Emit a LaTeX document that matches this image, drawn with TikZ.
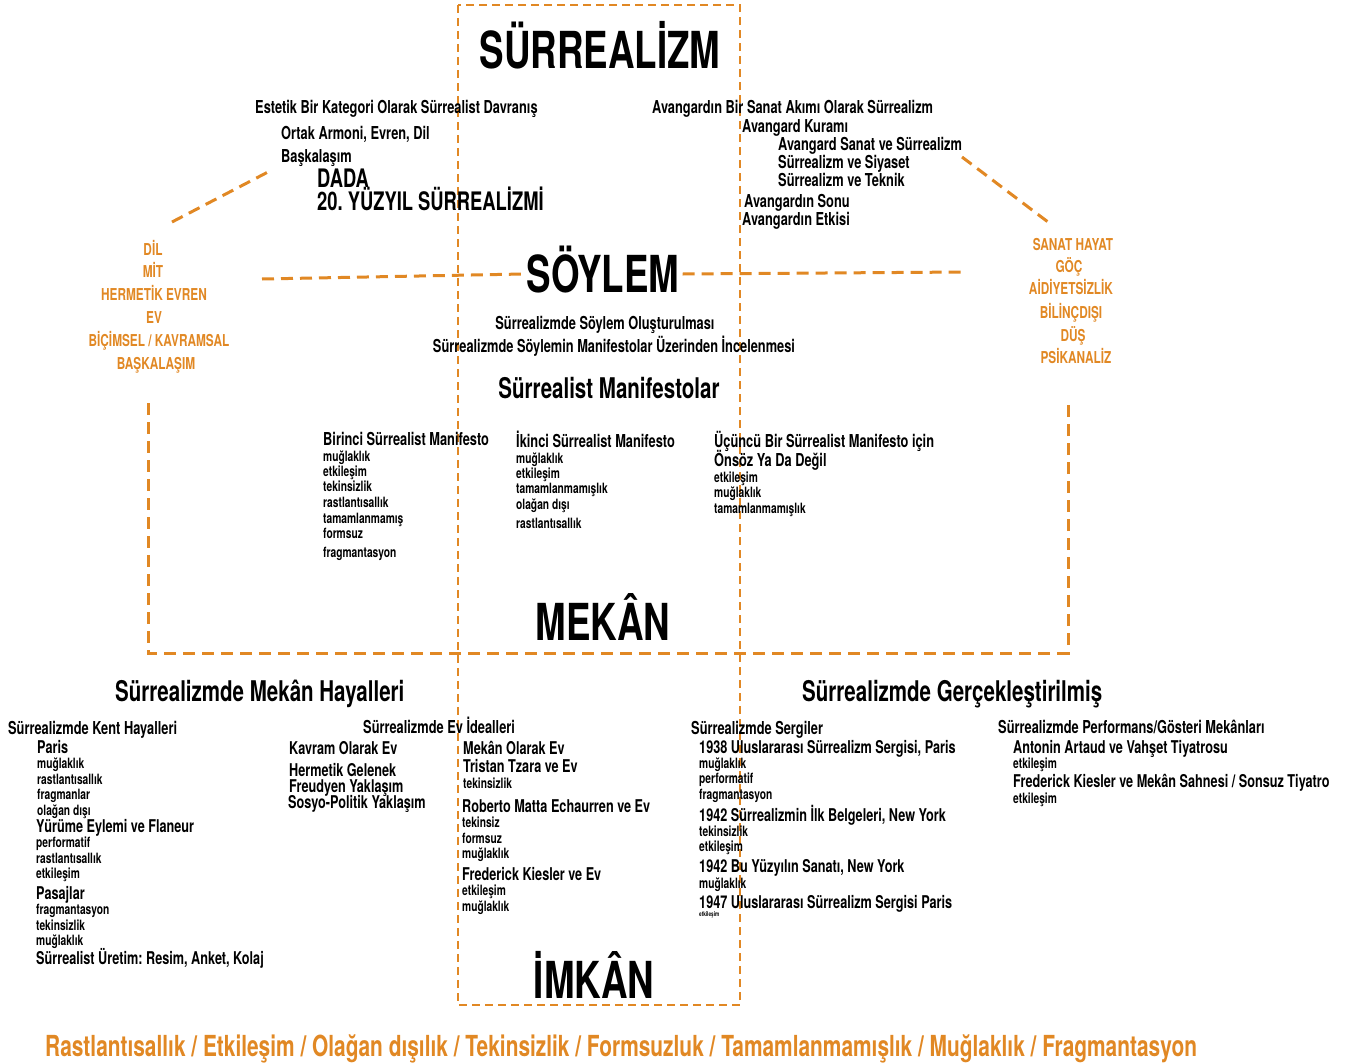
\documentclass[tikz,border=0pt]{standalone}
\usepackage{fontspec}
\setmainfont{TeX Gyre Heros}[FakeStretch=0.72]
\definecolor{orng}{RGB}{225,136,36}
\frenchspacing
\begin{document}
\begin{tikzpicture}[x=1pt,y=-1pt,
  base/.style={inner sep=0pt, text depth=0pt},
  lt/.style={base, anchor=west},
  big/.style={base, anchor=center, text height=36.7pt, font=\fontsize{51}{51}\selectfont\bfseries},
  head/.style={lt, text height=20.5pt, font=\fontsize{28.5}{28.5}\selectfont\bfseries},
  dada/.style={lt, text height=18.4pt, font=\fontsize{25.5}{25.5}\selectfont\bfseries},
  mid/.style={lt, text height=12.8pt, font=\fontsize{17.8}{17.8}\selectfont\bfseries},
  mida/.style={lt, text height=12.7pt, font=\fontsize{17.6}{17.6}\selectfont\bfseries},
  sm/.style={lt, text height=10.2pt, font=\fontsize{14.2}{14.2}\selectfont\bfseries},
  tiny/.style={lt, text height=4.7pt, font=\fontsize{6.5}{6.5}\selectfont\bfseries},
  olist/.style={base, anchor=center, text height=11.8pt, text=orng, font=\fontsize{16.4}{16.4}\selectfont\bfseries},
  bottom/.style={lt, text height=20.9pt, text=orng, font=\fontsize{29}{29}\selectfont\bfseries},
  dline/.style={draw=orng, line width=3pt, dash pattern=on 12pt off 7pt},
  frame/.style={draw=orng, line width=2.4pt, dash pattern=on 8pt off 5pt}]
\useasboundingbox (0,0) rectangle (1363,1063);

% frame and dashed connectors
\coordinate (ftl) at (458,5);
\coordinate (fbr) at (740,1005);
\draw[frame] (ftl) rectangle (fbr);

\coordinate (vl1) at (148,403);
\coordinate (vl2) at (148,653);
\coordinate (vr2) at (1068,653);
\coordinate (vr1) at (1068,403);
\draw[dline] (vl1) -- (vl2) -- (vr2) -- (vr1);

\coordinate (dl1) at (172,222);
\coordinate (dl2) at (268,172);
\draw[dline] (dl1) -- (dl2);
\coordinate (dr1) at (962,157);
\coordinate (dr2) at (1048,222);
\draw[dline] (dr1) -- (dr2);

% main titles
\node[big] (surr) at (600,50) {SÜRREALİZM};
\node[big] (soylem) at (603,274) {SÖYLEM};
\node[big] (mekan) at (603,622) {MEKÂN};
\node[big] (imkan) at (594,980) {İMKÂN};

\coordinate (sl) at (262,279);
\coordinate (sr) at (967,272);
\draw[dline] (sl) -- ([xshift=-3pt]soylem.west);
\draw[dline] ([xshift=3pt]soylem.east) -- (sr);

% top left
\node[mid] (t1) at (255,107) {Estetik Bir Kategori Olarak Sürrealist Davranış};
\node[mid] (t2) at (281,133) {Ortak Armoni, Evren, Dil};
\node[mid] (t3) at (281,156) {Başkalaşım};
\node[dada] (t4) at (317,178) {DADA};
\node[dada] (t5) at (317,201) {20. YÜZYIL SÜRREALİZMİ};

% top right
\node[mid] (a1) at (652,107) {Avangardın Bir Sanat Akımı Olarak Sürrealizm};
\node[mid] (a2) at (742,126) {Avangard Kuramı};
\node[mid] (a3) at (778,144) {Avangard Sanat ve Sürrealizm};
\node[mid] (a4) at (778,162) {Sürrealizm ve Siyaset};
\node[mid] (a5) at (778,180) {Sürrealizm ve Teknik};
\node[mid] (a6) at (744,201) {Avangardın Sonu};
\node[mid] (a7) at (742,219) {Avangardın Etkisi};

% left orange list
\node[olist] (o1) at (153,250) {DİL};
\node[olist] (o2) at (153,272) {MİT};
\node[olist] (o3) at (154,295) {HERMETİK EVREN};
\node[olist] (o4) at (154,318) {EV};
\node[olist] (o5) at (159,341) {BİÇİMSEL / KAVRAMSAL};
\node[olist] (o6) at (156,364) {BAŞKALAŞIM};

% right orange list
\node[olist] (r1) at (1073,245) {SANAT HAYAT};
\node[olist] (r2) at (1069,267) {GÖÇ};
\node[olist] (r3) at (1071,289) {AİDİYETSİZLİK};
\node[olist] (r4) at (1071,313) {BİLİNÇDIŞI};
\node[olist] (r5) at (1073,336) {DÜŞ};
\node[olist] (r6) at (1076,358) {PSİKANALİZ};

% söylem block
\node[mid, anchor=center] (s1) at (605,323) {Sürrealizmde Söylem Oluşturulması};
\node[mid, anchor=center] (s2) at (614,346) {Sürrealizmde Söylemin Manifestolar Üzerinden İncelenmesi};
\node[head, anchor=center] (s3) at (609,388) {Sürrealist Manifestolar};

% manifestos
\node[mid] (m1) at (323,439) {Birinci Sürrealist Manifesto};
\node[sm] (m1a) at (323,456) {muğlaklık};
\node[sm] (m1b) at (323,471) {etkileşim};
\node[sm] (m1c) at (323,486) {tekinsizlik};
\node[sm] (m1d) at (323,502) {rastlantısallık};
\node[sm] (m1e) at (323,518) {tamamlanmamış};
\node[sm] (m1f) at (323,533) {formsuz};
\node[sm] (m1g) at (323,552) {fragmantasyon};

\node[mid] (m2) at (516,441) {İkinci Sürrealist Manifesto};
\node[sm] (m2a) at (516,458) {muğlaklık};
\node[sm] (m2b) at (516,473) {etkileşim};
\node[sm] (m2c) at (516,488) {tamamlanmamışlık};
\node[sm] (m2d) at (516,504) {olağan dışı};
\node[sm] (m2e) at (516,523) {rastlantısallık};

\node[mid] (m3) at (714,441) {Üçüncü Bir Sürrealist Manifesto için};
\node[mid] (m3x) at (714,460) {Önsöz Ya Da Değil};
\node[sm] (m3a) at (714,477) {etkileşim};
\node[sm] (m3b) at (714,492) {muğlaklık};
\node[sm] (m3c) at (714,508) {tamamlanmamışlık};

% mekan hayalleri
\node[head] (h1) at (115,691) {Sürrealizmde Mekân Hayalleri};
\node[mid] (k0) at (8,728) {Sürrealizmde Kent Hayalleri};
\node[mida] (k1) at (37,747) {Paris};
\node[sm] (k1a) at (37,763) {muğlaklık};
\node[sm] (k1b) at (37,779) {rastlantısallık};
\node[sm] (k1c) at (37,794) {fragmanlar};
\node[sm] (k1d) at (37,810) {olağan dışı};
\node[mida] (k2) at (36,826) {Yürüme Eylemi ve Flaneur};
\node[sm] (k2a) at (36,842) {performatif};
\node[sm] (k2b) at (36,858) {rastlantısallık};
\node[sm] (k2c) at (36,873) {etkileşim};
\node[mida] (k3) at (36,893) {Pasajlar};
\node[sm] (k3a) at (36,909) {fragmantasyon};
\node[sm] (k3b) at (36,925) {tekinsizlik};
\node[sm] (k3c) at (36,940) {muğlaklık};
\node[mida] (k4) at (36,958) {Sürrealist Üretim: Resim, Anket, Kolaj};

\node[mid] (e0) at (363,727) {Sürrealizmde Ev İdealleri};
\node[mida] (e1) at (289,748) {Kavram Olarak Ev};
\node[mida] (e2) at (289,770) {Hermetik Gelenek};
\node[mida] (e3) at (289,786) {Freudyen Yaklaşım};
\node[mida] (e4) at (288,802) {Sosyo-Politik Yaklaşım};
\node[mida] (e5) at (463,748) {Mekân Olarak Ev};
\node[mida] (e6) at (463,766) {Tristan Tzara ve Ev};
\node[sm] (e6a) at (463,783) {tekinsizlik};
\node[mida] (e7) at (462,806) {Roberto Matta Echaurren ve Ev};
\node[sm] (e7a) at (462,822) {tekinsiz};
\node[sm] (e7b) at (462,838) {formsuz};
\node[sm] (e7c) at (462,853) {muğlaklık};
\node[mida] (e8) at (462,874) {Frederick Kiesler ve Ev};
\node[sm] (e8a) at (462,890) {etkileşim};
\node[sm] (e8b) at (462,906) {muğlaklık};

% gerceklestirilmis
\node[head] (g0) at (802,691) {Sürrealizmde Gerçekleştirilmiş};
\node[mid] (g1) at (691,728) {Sürrealizmde Sergiler};
\node[mida] (g2) at (699,747) {1938 Uluslararası Sürrealizm Sergisi, Paris};
\node[sm] (g2a) at (699,763) {muğlaklık};
\node[sm] (g2b) at (699,778) {performatif};
\node[sm] (g2c) at (699,794) {fragmantasyon};
\node[mida] (g3) at (699,815) {1942 Sürrealizmin İlk Belgeleri, New York};
\node[sm] (g3a) at (699,831) {tekinsizlik};
\node[sm] (g3b) at (699,846) {etkileşim};
\node[mida] (g4) at (699,866) {1942 Bu Yüzyılın Sanatı, New York};
\node[sm] (g4a) at (699,883) {muğlaklık};
\node[mida] (g5) at (699,902) {1947 Uluslararası Sürrealizm Sergisi Paris};
\node[tiny] (g5a) at (699,914) {etkileşim};

\node[mid] (p0) at (998,727) {Sürrealizmde Performans/Gösteri Mekânları};
\node[mida] (p1) at (1013,747) {Antonin Artaud ve Vahşet Tiyatrosu};
\node[sm] (p1a) at (1013,763) {etkileşim};
\node[mida] (p2) at (1013,781) {Frederick Kiesler ve Mekân Sahnesi / Sonsuz Tiyatro};
\node[sm] (p2a) at (1013,798) {etkileşim};

% bottom line
\node[bottom] (bot) at (45,1046)
  {Rastlantısallık / Etkileşim / Olağan dışılık / Tekinsizlik / Formsuzluk / Tamamlanmamışlık / Muğlaklık / Fragmantasyon};
\end{tikzpicture}
\end{document}
